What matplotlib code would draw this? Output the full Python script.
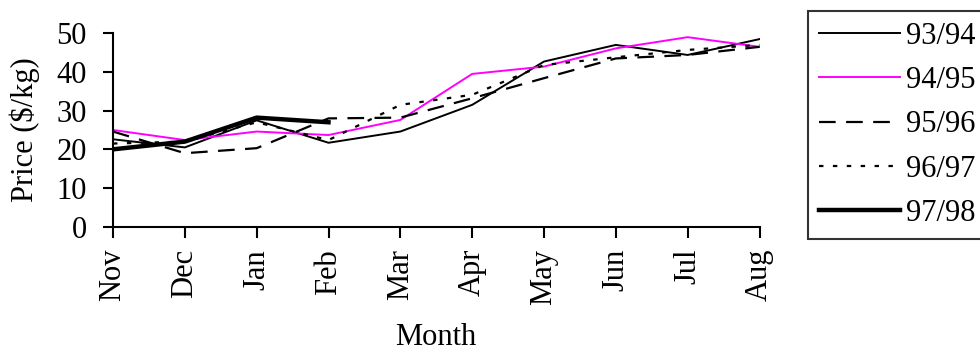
import matplotlib
matplotlib.use("Agg")
import matplotlib.pyplot as plt
import numpy as np

months = ["Nov", "Dec", "Jan", "Feb", "Mar", "Apr", "May", "Jun", "Jul", "Aug"]
s9394 = [22.6, 20.5, 27.5, 21.7, 24.6, 31.5, 42.7, 47.0, 44.4, 48.5]
s9495 = [25.0, 22.4, 24.6, 23.7, 27.6, 39.5, 41.4, 46.1, 49.0, 46.5]
s9596 = [24.6, 19.0, 20.3, 28.0, 28.2, 33.2, 38.4, 43.5, 44.4, 46.5]
s9697 = [21.5, 22.0, 27.0, 22.4, 31.5, 34.1, 41.8, 43.8, 45.7, 47.0]
s9798 = [20.0, 22.0, 28.2, 27.0]
yticks = [0, 10, 20, 30, 40, 50]

plt.rcParams["font.family"] = ["Liberation Serif", "DejaVu Serif"]
plt.rcParams["lines.scale_dashes"] = False

fig = plt.figure(figsize=(9.8, 3.52), dpi=100)
ax = fig.add_axes([113 / 980, 1 - 226.7 / 352, (759.5 - 113) / 980, (226.7 - 33.3) / 352])

x = np.arange(len(months))
ax.plot(x, s9394, color="black", lw=1.4, label="93/94")
ax.plot(x, s9495, color="#FF00FF", lw=1.4, label="94/95")
ax.plot(x, s9596, color="black", lw=1.6, dashes=(12, 7.5), label="95/96")
ax.plot(x, s9697, color="black", lw=1.6, dashes=(3.2, 6.8), label="96/97")
ax.plot(x[:len(s9798)], s9798, color="black", lw=3.2, label="97/98")

ax.set_xlim(0, len(months) - 1)
ax.set_ylim(0, 50)
ax.set_yticks(yticks)
ax.set_xticks(x)
ax.set_xticklabels(months, rotation=90, fontsize=22)
ax.tick_params(axis="y", labelsize=22, length=7, width=1.5, pad=12, direction="out")
ax.tick_params(axis="x", length=8, width=1.5, pad=8, direction="out")
for side in ("top", "right"):
    ax.spines[side].set_visible(False)
for side in ("left", "bottom"):
    ax.spines[side].set_linewidth(1.5)

ax.set_ylabel("Price ($/kg)", fontsize=22, labelpad=12)
ax.set_xlabel("Month", fontsize=22, labelpad=13)

leg = fig.legend(loc="upper left", bbox_to_anchor=(808 / 980, 1 - 11 / 352),
                 fontsize=22, handlelength=2.65, handletextpad=0.2,
                 labelspacing=0.5, borderpad=0.35, borderaxespad=0,
                 fancybox=False, frameon=True, edgecolor="black")
leg.get_frame().set_linewidth(1.5)

fig.savefig("out.png", dpi=100)
